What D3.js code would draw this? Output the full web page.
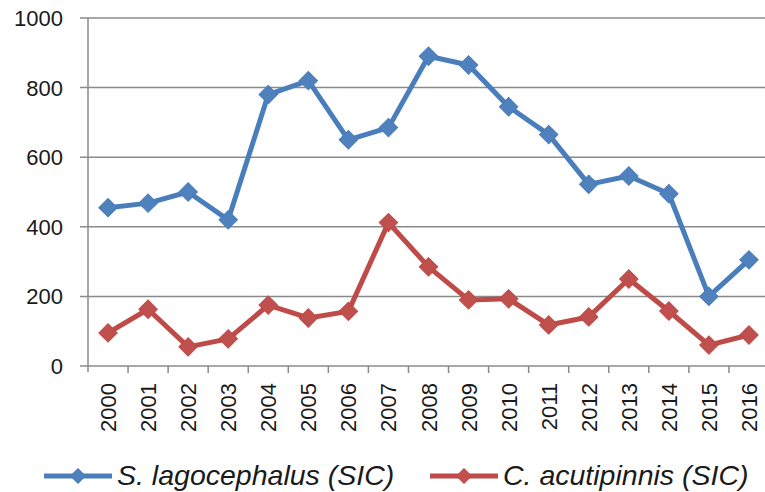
<!DOCTYPE html>
<html>
<head>
<meta charset="utf-8">
<script src="https://cdn.jsdelivr.net/npm/d3@7"></script>
<style>
  body { margin: 0; background: #fff; }
  text { font-family: "Liberation Sans", Arial, sans-serif; fill: #1a1a1a; }
</style>
</head>
<body>
<div id="chart"></div>
<script>
// Chart data
var years = ["2000","2001","2002","2003","2004","2005","2006","2007","2008",
             "2009","2010","2011","2012","2013","2014","2015","2016"];
var lagocephalus = [455, 468, 500, 420, 780, 820, 650, 685, 890, 865, 745, 665, 522, 546, 495, 200, 305];
var acutipinnis = [95, 163, 55, 78, 175, 138, 157, 412, 285, 190, 193, 118, 141, 250, 158, 60, 89];
var yTicks = [0, 200, 400, 600, 800, 1000];
var seriesNames = ["S. lagocephalus (SIC)", "C. acutipinnis (SIC)"];

var W = 765, H = 492;
var plotLeft = 88, plotRight = 769, plotTop = 18, plotBottom = 366;

var svg = d3.select("#chart").append("svg")
    .attr("width", W).attr("height", H);

// x scale: one band per year, points sit in the middle
var x = d3.scaleBand().domain(years).range([plotLeft, plotRight]);
var y = d3.scaleLinear().domain([0, 1000]).range([plotBottom, plotTop]);

// horizontal gridlines
svg.append("g").selectAll("line").data(yTicks).enter().append("line")
    .attr("x1", plotLeft - 8).attr("x2", W)
    .attr("y1", function(d) { return y(d); })
    .attr("y2", function(d) { return y(d); })
    .attr("stroke", "#8a8a8a").attr("stroke-width", 1.5);

// y tick labels
svg.append("g").selectAll("text").data(yTicks).enter().append("text")
    .attr("x", 63).attr("y", function(d) { return y(d) + 8; })
    .attr("text-anchor", "end").style("font-size", "22px")
    .text(function(d) { return d; });

// vertical axis line
svg.append("line").attr("x1", plotLeft).attr("x2", plotLeft)
    .attr("y1", plotTop).attr("y2", plotBottom + 6)
    .attr("stroke", "#8a8a8a").attr("stroke-width", 1.5);

// x ticks between categories
svg.append("g").selectAll("line").data(years).enter().append("line")
    .attr("x1", function(d) { return x(d) + x.step(); })
    .attr("x2", function(d) { return x(d) + x.step(); })
    .attr("y1", plotBottom).attr("y2", plotBottom + 7)
    .attr("stroke", "#8a8a8a").attr("stroke-width", 1.5);

// x tick labels, rotated
svg.append("g").selectAll("text").data(years).enter().append("text")
    .attr("transform", function(d) {
        return "translate(" + (x(d) + x.bandwidth() / 2 + 8) + "," + (plotBottom + 17) + ") rotate(-90)";
    })
    .attr("text-anchor", "end").style("font-size", "22px")
    .text(function(d) { return d; });

var line = d3.line()
    .x(function(d, i) { return x(years[i]) + x.bandwidth() / 2; })
    .y(function(d) { return y(d); });

var diamond = d3.symbol().type(d3.symbolSquare).size(170);

function drawSeries(values, lineColor, fillColor) {
    svg.append("path").datum(values)
        .attr("d", line).attr("fill", "none")
        .attr("stroke", lineColor).attr("stroke-width", 5)
        .attr("stroke-linejoin", "round");
    svg.append("g").selectAll("path").data(values).enter().append("path")
        .attr("d", diamond)
        .attr("transform", function(d, i) {
            return "translate(" + (x(years[i]) + x.bandwidth() / 2) + "," + y(d) + ") rotate(45)";
        })
        .attr("fill", fillColor).attr("stroke", lineColor).attr("stroke-width", 1);
}

drawSeries(acutipinnis, "#BE4B48", "#C0504D");
drawSeries(lagocephalus, "#4A7EBB", "#4F81BD");

// legend
var legend = [
    { name: seriesNames[0], line: "#4A7EBB", fill: "#4F81BD", x0: 44 },
    { name: seriesNames[1], line: "#BE4B48", fill: "#C0504D", x0: 430 }
];
legend.forEach(function(l) {
    svg.append("line").attr("x1", l.x0).attr("x2", l.x0 + 68)
        .attr("y1", 476).attr("y2", 476)
        .attr("stroke", l.line).attr("stroke-width", 5);
    svg.append("path").attr("d", d3.symbol().type(d3.symbolSquare).size(110))
        .attr("transform", "translate(" + (l.x0 + 34) + ",476) rotate(45)")
        .attr("fill", l.fill).attr("stroke", l.line);
    svg.append("text").attr("x", l.x0 + 73).attr("y", 485)
        .style("font-size", "28.5px").style("font-style", "italic")
        .text(l.name);
});
</script>
</body>
</html>
